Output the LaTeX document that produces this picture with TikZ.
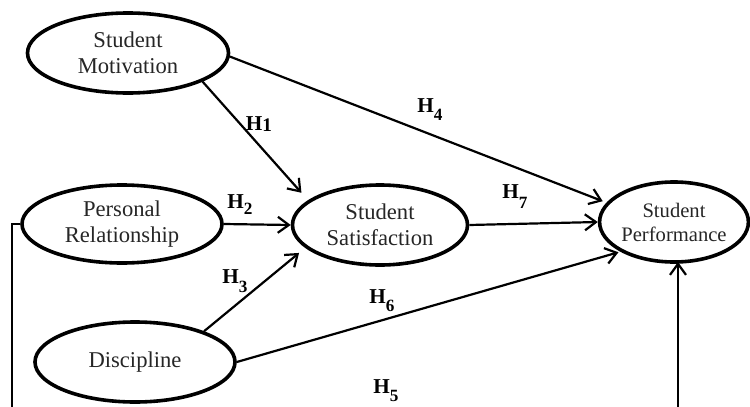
\documentclass[tikz,border=0pt]{standalone}
\usepackage{fontspec}
\setmainfont{Liberation Serif}
\usetikzlibrary{shapes.geometric,arrows.meta}
\newcommand{\hlab}[3][-4pt]{\textbf{H}\raisebox{#1}{\fontsize{#3}{9pt}\selectfont\textbf{#2}}}
\tikzset{
  var/.style={ellipse, draw=black, line width=1.8pt, inner sep=0pt, align=center,
              font=\fontsize{11.3pt}{13pt}\selectfont, text=black!85},
  link/.style={line width=1.1pt, -{Straight Barb[length=5.5pt,width=8pt,line width=1.1pt]}},
  hl/.style={font=\fontsize{10.6pt}{12pt}\selectfont, inner sep=0pt}
}
\begin{document}
\begin{tikzpicture}[x=0.5pt,y=-0.5pt]
\useasboundingbox (0,0) rectangle (750,407);
\clip (0,0) rectangle (750,407);
\node[var, minimum width=100.5pt, minimum height=40pt] (mot) at (128,53) {Student\\Motivation};
\node[var, minimum width=100pt, minimum height=39pt] (pr) at (122,224) {Personal\\Relationship};
\node[var, minimum width=100pt, minimum height=40pt] (dis) at (135,362) {Discipline};
\node[var, minimum width=87.5pt, minimum height=40pt] (sat) at (380,225) {Student\\Satisfaction};
\node[var, minimum width=74pt, minimum height=40pt, font=\fontsize{10.3pt}{12pt}\selectfont] (perf) at (674,222) {Student\\Performance};
\coordinate (bl) at (12,440);
\coordinate (br) at (678,440);
\coordinate (pb) at (678,262);
\draw[link, shorten >=5pt] (mot.-21) -- (sat.161);
\draw[link, shorten >=2pt] (mot.-2) -- (perf.164);
\draw[link] (pr.east) -- (sat.west);
\draw[link] (sat.east) -- (perf.west);
\draw[link, shorten >=4pt] (dis.24) -- (sat.197);
\draw[link, shorten >=1pt] (dis.east) -- (perf.209);
\draw[link] (pr.west) -| (bl) -- (br) -- (pb);
\node[hl] (h1) at (259,124) {\hlab[-0.6pt]{1}{9.6pt}};
\node[hl] (h2) at (240,205) {\hlab[-3pt]{2}{8.6pt}};
\node[hl] (h3) at (235,281) {\hlab[-4.5pt]{3}{8.6pt}};
\node[hl] (h4) at (430,110) {\hlab[-4pt]{4}{8.6pt}};
\node[hl] (h5) at (386,391) {\hlab[-4pt]{5}{8.6pt}};
\node[hl] (h6) at (382,301) {\hlab[-4pt]{6}{8.6pt}};
\node[hl] (h7) at (515,197) {\hlab[-5pt]{7}{8.6pt}};
\end{tikzpicture}
\end{document}
